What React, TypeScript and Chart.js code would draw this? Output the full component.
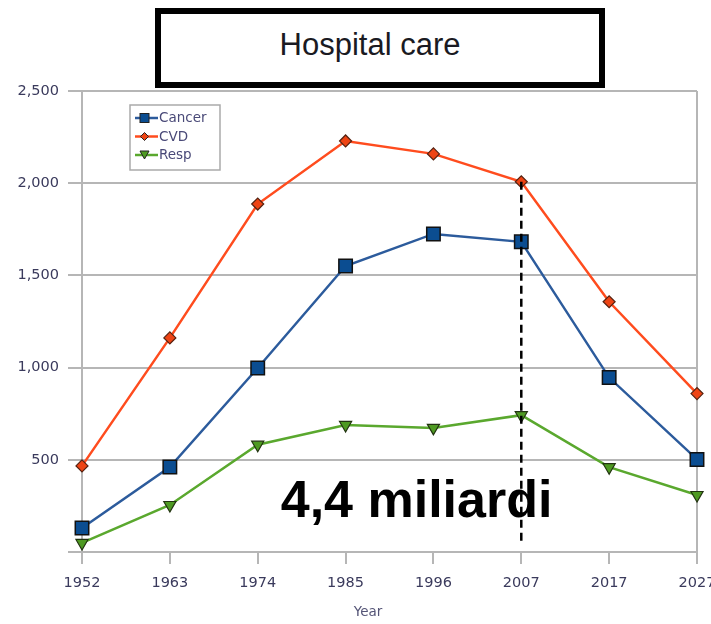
import React, { useEffect, useRef } from 'react';
import { Chart, registerables } from 'chart.js';
Chart.register(...registerables);

const years = ['1952', '1963', '1974', '1985', '1996', '2007', '2017', '2027'];
const cancer = [130, 461, 998, 1551, 1725, 1682, 946, 502];
const cvd = [467, 1161, 1887, 2229, 2159, 2008, 1357, 859];
const resp = [49, 255, 582, 689, 673, 742, 460, 309];
const seriesNames = ['Cancer', 'CVD', 'Resp'];
const yMin = 0;
const yMax = 2500;
const yStep = 500;
const markerYear = '2007';
const markerFromValue = 2008;
const markerToValue = 55;
const annotationText = '4,4 miliardi';
const titleText = 'Hospital care';
const xAxisTitle = 'Year';

const COL = {
  cancerLine: '#2c5b9c',
  cancerFill: '#0b4d91',
  cvdLine: '#ff4c1e',
  cvdFill: '#ee4414',
  respLine: '#5aa82e',
  respFill: '#4e9a22',
  grid: '#b6b6b6',
  tick: '#3a3a5c',
};

const extrasPlugin = {
  id: 'extras',
  afterDatasetsDraw(chart: any) {
    const { ctx, chartArea, scales } = chart;
    const x = scales.x;
    const y = scales.y;
    ctx.save();
    // dashed vertical marker
    const xi = years.indexOf(markerYear);
    const px = x.getPixelForValue(xi);
    ctx.strokeStyle = '#000';
    ctx.lineWidth = 2.5;
    ctx.setLineDash([8, 5]);
    ctx.beginPath();
    ctx.moveTo(px, y.getPixelForValue(markerFromValue));
    ctx.lineTo(px, y.getPixelForValue(markerToValue));
    ctx.stroke();
    ctx.setLineDash([]);

    // annotation text
    ctx.fillStyle = '#000';
    ctx.font = 'bold 52px "Liberation Sans", Arial, sans-serif';
    ctx.textAlign = 'center';
    ctx.textBaseline = 'alphabetic';
    ctx.fillText(annotationText, chartArea.left + 0.544 * (chartArea.right - chartArea.left), chartArea.bottom - 35);

    // x axis title
    ctx.fillStyle = '#555577';
    ctx.font = '13.5px "DejaVu Sans", sans-serif';
    ctx.textBaseline = 'middle';
    ctx.fillText(xAxisTitle, chartArea.left + 0.465 * (chartArea.right - chartArea.left), 612);

    // legend
    const bx = chartArea.left + 48;
    const by = chartArea.top + 14;
    const bw = 90;
    const bh = 65;
    ctx.fillStyle = '#fff';
    ctx.fillRect(bx, by, bw, bh);
    ctx.strokeStyle = '#aaaaaa';
    ctx.lineWidth = 1.5;
    ctx.strokeRect(bx, by, bw, bh);
    const dsets = chart.data.datasets;
    dsets.forEach((ds: any, i: number) => {
      const ly = by + 13 + i * 18.5;
      const lx0 = bx + 5;
      const lx1 = bx + 28;
      ctx.strokeStyle = ds.borderColor;
      ctx.lineWidth = 2.5;
      ctx.beginPath();
      ctx.moveTo(lx0, ly);
      ctx.lineTo(lx1, ly);
      ctx.stroke();
      const mx = (lx0 + lx1) / 2 - 2;
      ctx.fillStyle = ds.pointBackgroundColor;
      ctx.strokeStyle = '#222';
      ctx.lineWidth = 1;
      if (i === 0) {
        ctx.fillRect(mx - 4.5, ly - 4.5, 9, 9);
        ctx.strokeRect(mx - 4.5, ly - 4.5, 9, 9);
      } else if (i === 1) {
        ctx.beginPath();
        ctx.moveTo(mx, ly - 4);
        ctx.lineTo(mx + 4, ly);
        ctx.lineTo(mx, ly + 4);
        ctx.lineTo(mx - 4, ly);
        ctx.closePath();
        ctx.fill();
        ctx.stroke();
      } else {
        ctx.beginPath();
        ctx.moveTo(mx - 4.5, ly - 4);
        ctx.lineTo(mx + 4.5, ly - 4);
        ctx.lineTo(mx, ly + 4);
        ctx.closePath();
        ctx.fill();
        ctx.stroke();
      }
      ctx.fillStyle = '#4a4a78';
      ctx.font = '13.5px "DejaVu Sans", sans-serif';
      ctx.textAlign = 'left';
      ctx.textBaseline = 'middle';
      ctx.fillText(ds.label, lx1 + 1, ly + 0.5);
    });
    ctx.restore();
  },
};

export default function App() {
  const ref = useRef<HTMLCanvasElement | null>(null);
  useEffect(() => {
    document.body.style.margin = '0';
    if (!ref.current) return;
    const chart = new Chart(ref.current, {
      type: 'line',
      data: {
        labels: years,
        datasets: [
          {
            label: seriesNames[0],
            data: cancer,
            borderColor: COL.cancerLine,
            borderWidth: 2.5,
            pointStyle: 'rect',
            pointRadius: 9.5,
            pointBackgroundColor: COL.cancerFill,
            pointBorderColor: '#111',
            pointBorderWidth: 1.5,
            clip: false,
          },
          {
            label: seriesNames[1],
            data: cvd,
            borderColor: COL.cvdLine,
            borderWidth: 2.5,
            pointStyle: 'rectRot',
            pointRadius: 6,
            pointBackgroundColor: COL.cvdFill,
            pointBorderColor: '#552211',
            pointBorderWidth: 1.2,
            clip: false,
          },
          {
            label: seriesNames[2],
            data: resp,
            borderColor: COL.respLine,
            borderWidth: 2.5,
            pointStyle: 'triangle',
            pointRotation: 180,
            pointRadius: 7,
            pointBackgroundColor: COL.respFill,
            pointBorderColor: '#223311',
            pointBorderWidth: 1.2,
            clip: false,
          },
        ] as any,
      },
      options: {
        animation: false,
        responsive: false,
        events: [],
        layout: { padding: { top: 91, right: 14, left: 0, bottom: 0 } },
        plugins: {
          legend: { display: false },
          tooltip: { enabled: false },
          title: { display: false },
        },
        scales: {
          x: {
            type: 'category',
            offset: false,
            grid: {
              color: (c: any) => (c.index === years.length - 1 ? COL.grid : 'rgba(0,0,0,0)'),
              tickColor: COL.grid,
              lineWidth: 2,
              tickLength: 12,
              drawOnChartArea: true,
            },
            border: { display: true, color: COL.grid, width: 2 },
            ticks: {
              color: COL.tick,
              font: { family: '"DejaVu Sans", sans-serif', size: 14.5 },
              maxRotation: 0,
              autoSkip: false,
              padding: 11,
            },
            afterFit: (s: any) => {
              s.height = 72;
              s.paddingLeft = 0;
              s.paddingRight = 14;
            },
          },
          y: {
            min: yMin,
            max: yMax,
            ticks: {
              stepSize: yStep,
              color: COL.tick,
              font: { family: '"DejaVu Sans", sans-serif', size: 14.5 },
              padding: 9,
              callback: (v: any) => (v === 0 ? '' : Number(v).toLocaleString('en-US')),
            },
            grid: { color: COL.grid, lineWidth: 2, tickLength: 14 },
            border: { display: true, color: COL.grid, width: 2 },
            afterFit: (s: any) => {
              s.width = 82;
            },
          },
        },
      } as any,
      plugins: [extrasPlugin],
    });
    return () => chart.destroy();
  }, []);

  return (
    <div style={{ position: 'relative', width: 711, height: 624, background: '#fff' }}>
      <canvas ref={ref} width={711} height={624} style={{ position: 'absolute', left: 0, top: 0, width: 711, height: 624 }} />
      <div
        style={{
          position: 'absolute',
          left: 155,
          top: 8,
          width: 450,
          height: 80,
          boxSizing: 'border-box',
          border: '6px solid #000',
          background: '#fff',
          display: 'flex',
          alignItems: 'center',
          justifyContent: 'center',
          paddingRight: 20,
          paddingBottom: 6,
          fontFamily: '"Liberation Sans", Arial, sans-serif',
          fontSize: 31,
          color: '#1a1a22',
        }}
      >
        {titleText}
      </div>
    </div>
  );
}
